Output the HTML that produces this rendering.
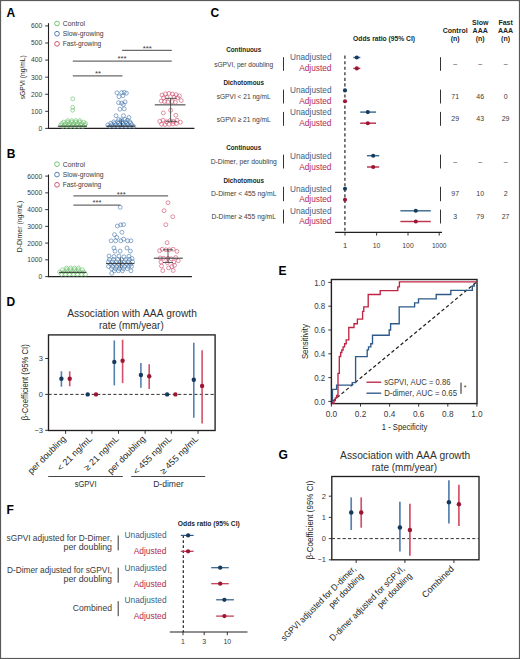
<!DOCTYPE html>
<html><head><meta charset="utf-8"><style>
html,body{margin:0;padding:0;background:#fff;}
svg{display:block;font-family:"Liberation Sans", sans-serif;font-variant-ligatures:none;font-kerning:none;}
</style></head><body>
<svg width="520" height="659" viewBox="0 0 520 659">
<rect x="0" y="0" width="520" height="659" fill="#fff"/>
<text x="6.6" y="16.8" font-size="12" fill="#000" text-anchor="start" font-weight="bold">A</text>
<line x1="48.5" y1="23.2" x2="48.5" y2="128.9" stroke="#231f20" stroke-width="1.1" stroke-linecap="butt"/>
<line x1="48" y1="128.4" x2="194.4" y2="128.4" stroke="#231f20" stroke-width="1.1" stroke-linecap="butt"/>
<line x1="45.2" y1="128.4" x2="48.5" y2="128.4" stroke="#231f20" stroke-width="0.9" stroke-linecap="butt"/>
<text x="42.2" y="130.8" font-size="6.7" fill="#3a3a3a" text-anchor="end">0</text>
<line x1="45.2" y1="111.32" x2="48.5" y2="111.32" stroke="#231f20" stroke-width="0.9" stroke-linecap="butt"/>
<text x="42.2" y="113.72" font-size="6.7" fill="#3a3a3a" text-anchor="end">100</text>
<line x1="45.2" y1="94.24" x2="48.5" y2="94.24" stroke="#231f20" stroke-width="0.9" stroke-linecap="butt"/>
<text x="42.2" y="96.64" font-size="6.7" fill="#3a3a3a" text-anchor="end">200</text>
<line x1="45.2" y1="77.16" x2="48.5" y2="77.16" stroke="#231f20" stroke-width="0.9" stroke-linecap="butt"/>
<text x="42.2" y="79.56" font-size="6.7" fill="#3a3a3a" text-anchor="end">300</text>
<line x1="45.2" y1="60.08" x2="48.5" y2="60.08" stroke="#231f20" stroke-width="0.9" stroke-linecap="butt"/>
<text x="42.2" y="62.48" font-size="6.7" fill="#3a3a3a" text-anchor="end">400</text>
<line x1="45.2" y1="43" x2="48.5" y2="43" stroke="#231f20" stroke-width="0.9" stroke-linecap="butt"/>
<text x="42.2" y="45.4" font-size="6.7" fill="#3a3a3a" text-anchor="end">500</text>
<line x1="45.2" y1="25.92" x2="48.5" y2="25.92" stroke="#231f20" stroke-width="0.9" stroke-linecap="butt"/>
<text x="42.2" y="28.32" font-size="6.7" fill="#3a3a3a" text-anchor="end">600</text>
<text transform="translate(25.1 77.3) rotate(-90)" font-size="7.6" fill="#231f20" text-anchor="middle" textLength="44" lengthAdjust="spacingAndGlyphs">sGPVI (ng/mL)</text>
<circle cx="57" cy="23.5" r="2.35" fill="none" stroke="#68bd68" stroke-width="0.9"/>
<text x="62.8" y="26" font-size="7" fill="#3a3a3a" text-anchor="start" textLength="22.2" lengthAdjust="spacingAndGlyphs">Control</text>
<circle cx="57" cy="33.7" r="2.35" fill="none" stroke="#4273ab" stroke-width="0.9"/>
<text x="62.8" y="36.2" font-size="7" fill="#3a3a3a" text-anchor="start" textLength="40.8" lengthAdjust="spacingAndGlyphs">Slow-growing</text>
<circle cx="57" cy="43.8" r="2.35" fill="none" stroke="#cc4866" stroke-width="0.9"/>
<text x="62.8" y="46.3" font-size="7" fill="#3a3a3a" text-anchor="start" textLength="38.5" lengthAdjust="spacingAndGlyphs">Fast-growing</text>
<line x1="122.1" y1="50.4" x2="171.8" y2="50.4" stroke="#6b6b6b" stroke-width="1.3" stroke-linecap="butt"/>
<text x="147.2" y="51" font-size="7.8" fill="#3a3a3a" text-anchor="middle">***</text>
<line x1="72.8" y1="61.1" x2="171.8" y2="61.1" stroke="#6b6b6b" stroke-width="1.3" stroke-linecap="butt"/>
<text x="122.1" y="61.4" font-size="7.8" fill="#3a3a3a" text-anchor="middle">***</text>
<line x1="72.8" y1="75.8" x2="122.5" y2="75.8" stroke="#6b6b6b" stroke-width="1.3" stroke-linecap="butt"/>
<text x="98" y="76.3" font-size="7.8" fill="#3a3a3a" text-anchor="middle">**</text>
<circle cx="72.7" cy="98.8" r="1.95" fill="none" stroke="#68bd68" stroke-width="0.6"/>
<circle cx="72.7" cy="107.3" r="1.95" fill="none" stroke="#68bd68" stroke-width="0.6"/>
<circle cx="72.7" cy="110.2" r="1.95" fill="none" stroke="#68bd68" stroke-width="0.6"/>
<circle cx="62.7" cy="126.6" r="1.95" fill="none" stroke="#68bd68" stroke-width="0.6"/>
<circle cx="66.7" cy="126.6" r="1.95" fill="none" stroke="#68bd68" stroke-width="0.6"/>
<circle cx="70.7" cy="126.6" r="1.95" fill="none" stroke="#68bd68" stroke-width="0.6"/>
<circle cx="74.7" cy="126.6" r="1.95" fill="none" stroke="#68bd68" stroke-width="0.6"/>
<circle cx="78.7" cy="126.6" r="1.95" fill="none" stroke="#68bd68" stroke-width="0.6"/>
<circle cx="82.7" cy="126.6" r="1.95" fill="none" stroke="#68bd68" stroke-width="0.6"/>
<circle cx="60.7" cy="125.1" r="1.95" fill="none" stroke="#68bd68" stroke-width="0.6"/>
<circle cx="64.7" cy="125.1" r="1.95" fill="none" stroke="#68bd68" stroke-width="0.6"/>
<circle cx="68.7" cy="125.1" r="1.95" fill="none" stroke="#68bd68" stroke-width="0.6"/>
<circle cx="72.7" cy="125.1" r="1.95" fill="none" stroke="#68bd68" stroke-width="0.6"/>
<circle cx="76.7" cy="125.1" r="1.95" fill="none" stroke="#68bd68" stroke-width="0.6"/>
<circle cx="80.7" cy="125.1" r="1.95" fill="none" stroke="#68bd68" stroke-width="0.6"/>
<circle cx="84.7" cy="125.1" r="1.95" fill="none" stroke="#68bd68" stroke-width="0.6"/>
<circle cx="61.7" cy="123.6" r="1.95" fill="none" stroke="#68bd68" stroke-width="0.6"/>
<circle cx="65.7" cy="123.6" r="1.95" fill="none" stroke="#68bd68" stroke-width="0.6"/>
<circle cx="69.7" cy="123.6" r="1.95" fill="none" stroke="#68bd68" stroke-width="0.6"/>
<circle cx="73.7" cy="123.6" r="1.95" fill="none" stroke="#68bd68" stroke-width="0.6"/>
<circle cx="77.7" cy="123.6" r="1.95" fill="none" stroke="#68bd68" stroke-width="0.6"/>
<circle cx="81.7" cy="123.6" r="1.95" fill="none" stroke="#68bd68" stroke-width="0.6"/>
<circle cx="85.7" cy="123.6" r="1.95" fill="none" stroke="#68bd68" stroke-width="0.6"/>
<circle cx="63.7" cy="122.1" r="1.95" fill="none" stroke="#68bd68" stroke-width="0.6"/>
<circle cx="67.7" cy="122.1" r="1.95" fill="none" stroke="#68bd68" stroke-width="0.6"/>
<circle cx="71.7" cy="122.1" r="1.95" fill="none" stroke="#68bd68" stroke-width="0.6"/>
<circle cx="75.7" cy="122.1" r="1.95" fill="none" stroke="#68bd68" stroke-width="0.6"/>
<circle cx="79.7" cy="122.1" r="1.95" fill="none" stroke="#68bd68" stroke-width="0.6"/>
<circle cx="83.7" cy="122.1" r="1.95" fill="none" stroke="#68bd68" stroke-width="0.6"/>
<circle cx="67.7" cy="120.6" r="1.95" fill="none" stroke="#68bd68" stroke-width="0.6"/>
<circle cx="71.7" cy="120.6" r="1.95" fill="none" stroke="#68bd68" stroke-width="0.6"/>
<circle cx="75.7" cy="120.6" r="1.95" fill="none" stroke="#68bd68" stroke-width="0.6"/>
<circle cx="79.7" cy="120.6" r="1.95" fill="none" stroke="#68bd68" stroke-width="0.6"/>
<line x1="57.8" y1="126.2" x2="87" y2="126.2" stroke="#2a2a2a" stroke-width="1" stroke-linecap="butt"/>
<circle cx="116.9" cy="92.8" r="1.95" fill="none" stroke="#4273ab" stroke-width="0.6"/>
<circle cx="121.6" cy="92.6" r="1.95" fill="none" stroke="#4273ab" stroke-width="0.6"/>
<circle cx="124.2" cy="92.4" r="1.95" fill="none" stroke="#4273ab" stroke-width="0.6"/>
<circle cx="126.4" cy="93.2" r="1.95" fill="none" stroke="#4273ab" stroke-width="0.6"/>
<circle cx="119" cy="96.7" r="1.95" fill="none" stroke="#4273ab" stroke-width="0.6"/>
<circle cx="122.9" cy="95.8" r="1.95" fill="none" stroke="#4273ab" stroke-width="0.6"/>
<circle cx="118.6" cy="102.7" r="1.95" fill="none" stroke="#4273ab" stroke-width="0.6"/>
<circle cx="121.6" cy="103.2" r="1.95" fill="none" stroke="#4273ab" stroke-width="0.6"/>
<circle cx="125.1" cy="101.9" r="1.95" fill="none" stroke="#4273ab" stroke-width="0.6"/>
<circle cx="123.4" cy="104.5" r="1.95" fill="none" stroke="#4273ab" stroke-width="0.6"/>
<circle cx="119.9" cy="109.2" r="1.95" fill="none" stroke="#4273ab" stroke-width="0.6"/>
<circle cx="124.2" cy="108.8" r="1.95" fill="none" stroke="#4273ab" stroke-width="0.6"/>
<circle cx="116" cy="115.7" r="1.95" fill="none" stroke="#4273ab" stroke-width="0.6"/>
<circle cx="123.4" cy="115.7" r="1.95" fill="none" stroke="#4273ab" stroke-width="0.6"/>
<circle cx="129" cy="117.4" r="1.95" fill="none" stroke="#4273ab" stroke-width="0.6"/>
<circle cx="118.6" cy="119.6" r="1.95" fill="none" stroke="#4273ab" stroke-width="0.6"/>
<circle cx="121.2" cy="119.9" r="1.95" fill="none" stroke="#4273ab" stroke-width="0.6"/>
<circle cx="125" cy="119.4" r="1.95" fill="none" stroke="#4273ab" stroke-width="0.6"/>
<circle cx="127.5" cy="120.3" r="1.95" fill="none" stroke="#4273ab" stroke-width="0.6"/>
<circle cx="109.8" cy="126.5" r="1.95" fill="none" stroke="#4273ab" stroke-width="0.6"/>
<circle cx="113.8" cy="126.5" r="1.95" fill="none" stroke="#4273ab" stroke-width="0.6"/>
<circle cx="117.8" cy="126.5" r="1.95" fill="none" stroke="#4273ab" stroke-width="0.6"/>
<circle cx="121.8" cy="126.5" r="1.95" fill="none" stroke="#4273ab" stroke-width="0.6"/>
<circle cx="125.8" cy="126.5" r="1.95" fill="none" stroke="#4273ab" stroke-width="0.6"/>
<circle cx="129.8" cy="126.5" r="1.95" fill="none" stroke="#4273ab" stroke-width="0.6"/>
<circle cx="133.8" cy="126.5" r="1.95" fill="none" stroke="#4273ab" stroke-width="0.6"/>
<circle cx="107.8" cy="124.9" r="1.95" fill="none" stroke="#4273ab" stroke-width="0.6"/>
<circle cx="111.8" cy="124.9" r="1.95" fill="none" stroke="#4273ab" stroke-width="0.6"/>
<circle cx="115.8" cy="124.9" r="1.95" fill="none" stroke="#4273ab" stroke-width="0.6"/>
<circle cx="119.8" cy="124.9" r="1.95" fill="none" stroke="#4273ab" stroke-width="0.6"/>
<circle cx="123.8" cy="124.9" r="1.95" fill="none" stroke="#4273ab" stroke-width="0.6"/>
<circle cx="127.8" cy="124.9" r="1.95" fill="none" stroke="#4273ab" stroke-width="0.6"/>
<circle cx="131.8" cy="124.9" r="1.95" fill="none" stroke="#4273ab" stroke-width="0.6"/>
<circle cx="110.8" cy="123.3" r="1.95" fill="none" stroke="#4273ab" stroke-width="0.6"/>
<circle cx="114.8" cy="123.3" r="1.95" fill="none" stroke="#4273ab" stroke-width="0.6"/>
<circle cx="118.8" cy="123.3" r="1.95" fill="none" stroke="#4273ab" stroke-width="0.6"/>
<circle cx="122.8" cy="123.3" r="1.95" fill="none" stroke="#4273ab" stroke-width="0.6"/>
<circle cx="126.8" cy="123.3" r="1.95" fill="none" stroke="#4273ab" stroke-width="0.6"/>
<circle cx="130.8" cy="123.3" r="1.95" fill="none" stroke="#4273ab" stroke-width="0.6"/>
<circle cx="113.8" cy="121.8" r="1.95" fill="none" stroke="#4273ab" stroke-width="0.6"/>
<circle cx="117.8" cy="121.8" r="1.95" fill="none" stroke="#4273ab" stroke-width="0.6"/>
<circle cx="121.8" cy="121.8" r="1.95" fill="none" stroke="#4273ab" stroke-width="0.6"/>
<circle cx="125.8" cy="121.8" r="1.95" fill="none" stroke="#4273ab" stroke-width="0.6"/>
<circle cx="129.8" cy="121.8" r="1.95" fill="none" stroke="#4273ab" stroke-width="0.6"/>
<line x1="106.5" y1="126.2" x2="135" y2="126.2" stroke="#2a2a2a" stroke-width="1.1" stroke-linecap="butt"/>
<line x1="121.5" y1="119" x2="121.5" y2="127" stroke="#2a2a2a" stroke-width="0.6" stroke-linecap="butt"/>
<circle cx="162" cy="95" r="1.95" fill="none" stroke="#cc4866" stroke-width="0.6"/>
<circle cx="165.5" cy="93.8" r="1.95" fill="none" stroke="#cc4866" stroke-width="0.6"/>
<circle cx="169" cy="93.4" r="1.95" fill="none" stroke="#cc4866" stroke-width="0.6"/>
<circle cx="172.5" cy="94" r="1.95" fill="none" stroke="#cc4866" stroke-width="0.6"/>
<circle cx="176" cy="94.6" r="1.95" fill="none" stroke="#cc4866" stroke-width="0.6"/>
<circle cx="179.5" cy="95.9" r="1.95" fill="none" stroke="#cc4866" stroke-width="0.6"/>
<circle cx="163.5" cy="97.9" r="1.95" fill="none" stroke="#cc4866" stroke-width="0.6"/>
<circle cx="167" cy="97.4" r="1.95" fill="none" stroke="#cc4866" stroke-width="0.6"/>
<circle cx="174" cy="97.2" r="1.95" fill="none" stroke="#cc4866" stroke-width="0.6"/>
<circle cx="177.8" cy="97.8" r="1.95" fill="none" stroke="#cc4866" stroke-width="0.6"/>
<circle cx="181.2" cy="100.6" r="1.95" fill="none" stroke="#cc4866" stroke-width="0.6"/>
<circle cx="161.2" cy="101.1" r="1.95" fill="none" stroke="#cc4866" stroke-width="0.6"/>
<circle cx="164.5" cy="101.5" r="1.95" fill="none" stroke="#cc4866" stroke-width="0.6"/>
<circle cx="168" cy="102" r="1.95" fill="none" stroke="#cc4866" stroke-width="0.6"/>
<circle cx="172" cy="101.6" r="1.95" fill="none" stroke="#cc4866" stroke-width="0.6"/>
<circle cx="175.4" cy="102.3" r="1.95" fill="none" stroke="#cc4866" stroke-width="0.6"/>
<circle cx="170.6" cy="110.3" r="1.95" fill="none" stroke="#cc4866" stroke-width="0.6"/>
<circle cx="163.3" cy="112.9" r="1.95" fill="none" stroke="#cc4866" stroke-width="0.6"/>
<circle cx="175.8" cy="115.3" r="1.95" fill="none" stroke="#cc4866" stroke-width="0.6"/>
<circle cx="159.8" cy="121.3" r="1.95" fill="none" stroke="#cc4866" stroke-width="0.6"/>
<circle cx="163" cy="120.2" r="1.95" fill="none" stroke="#cc4866" stroke-width="0.6"/>
<circle cx="166.5" cy="121.8" r="1.95" fill="none" stroke="#cc4866" stroke-width="0.6"/>
<circle cx="170" cy="120.6" r="1.95" fill="none" stroke="#cc4866" stroke-width="0.6"/>
<circle cx="173.4" cy="121.5" r="1.95" fill="none" stroke="#cc4866" stroke-width="0.6"/>
<circle cx="177" cy="120.2" r="1.95" fill="none" stroke="#cc4866" stroke-width="0.6"/>
<circle cx="180.4" cy="122.2" r="1.95" fill="none" stroke="#cc4866" stroke-width="0.6"/>
<circle cx="161.5" cy="124.2" r="1.95" fill="none" stroke="#cc4866" stroke-width="0.6"/>
<circle cx="165" cy="124.5" r="1.95" fill="none" stroke="#cc4866" stroke-width="0.6"/>
<circle cx="169" cy="124.3" r="1.95" fill="none" stroke="#cc4866" stroke-width="0.6"/>
<circle cx="173" cy="124" r="1.95" fill="none" stroke="#cc4866" stroke-width="0.6"/>
<circle cx="176.5" cy="123.5" r="1.95" fill="none" stroke="#cc4866" stroke-width="0.6"/>
<line x1="154.8" y1="104.8" x2="185.5" y2="104.8" stroke="#777" stroke-width="1.5" stroke-linecap="butt"/>
<line x1="170.6" y1="98.3" x2="170.6" y2="121.3" stroke="#333" stroke-width="0.8" stroke-linecap="butt"/>
<line x1="165.3" y1="98.3" x2="176.7" y2="98.3" stroke="#333" stroke-width="0.8" stroke-linecap="butt"/>
<line x1="165.3" y1="121.3" x2="176.7" y2="121.3" stroke="#333" stroke-width="0.8" stroke-linecap="butt"/>
<text x="6.8" y="157.6" font-size="12" fill="#000" text-anchor="start" font-weight="bold">B</text>
<line x1="48.5" y1="174.5" x2="48.5" y2="277.1" stroke="#231f20" stroke-width="1.1" stroke-linecap="butt"/>
<line x1="48" y1="276.6" x2="191.9" y2="276.6" stroke="#231f20" stroke-width="1.1" stroke-linecap="butt"/>
<line x1="45.2" y1="276.6" x2="48.5" y2="276.6" stroke="#231f20" stroke-width="0.9" stroke-linecap="butt"/>
<text x="42.2" y="279" font-size="6.7" fill="#3a3a3a" text-anchor="end">0</text>
<line x1="45.2" y1="259.85" x2="48.5" y2="259.85" stroke="#231f20" stroke-width="0.9" stroke-linecap="butt"/>
<text x="42.2" y="262.25" font-size="6.7" fill="#3a3a3a" text-anchor="end">1000</text>
<line x1="45.2" y1="243.1" x2="48.5" y2="243.1" stroke="#231f20" stroke-width="0.9" stroke-linecap="butt"/>
<text x="42.2" y="245.5" font-size="6.7" fill="#3a3a3a" text-anchor="end">2000</text>
<line x1="45.2" y1="226.35" x2="48.5" y2="226.35" stroke="#231f20" stroke-width="0.9" stroke-linecap="butt"/>
<text x="42.2" y="228.75" font-size="6.7" fill="#3a3a3a" text-anchor="end">3000</text>
<line x1="45.2" y1="209.6" x2="48.5" y2="209.6" stroke="#231f20" stroke-width="0.9" stroke-linecap="butt"/>
<text x="42.2" y="212" font-size="6.7" fill="#3a3a3a" text-anchor="end">4000</text>
<line x1="45.2" y1="192.85" x2="48.5" y2="192.85" stroke="#231f20" stroke-width="0.9" stroke-linecap="butt"/>
<text x="42.2" y="195.25" font-size="6.7" fill="#3a3a3a" text-anchor="end">5000</text>
<line x1="45.2" y1="176.1" x2="48.5" y2="176.1" stroke="#231f20" stroke-width="0.9" stroke-linecap="butt"/>
<text x="42.2" y="178.5" font-size="6.7" fill="#3a3a3a" text-anchor="end">6000</text>
<text transform="translate(21.6 226.5) rotate(-90)" font-size="7.6" fill="#231f20" text-anchor="middle" textLength="51.5" lengthAdjust="spacingAndGlyphs">D-Dimer (ng/mL)</text>
<circle cx="57" cy="164.2" r="2.35" fill="none" stroke="#68bd68" stroke-width="0.9"/>
<text x="62.8" y="166.7" font-size="7" fill="#3a3a3a" text-anchor="start" textLength="22.2" lengthAdjust="spacingAndGlyphs">Control</text>
<circle cx="57" cy="174.6" r="2.35" fill="none" stroke="#4273ab" stroke-width="0.9"/>
<text x="62.8" y="177.1" font-size="7" fill="#3a3a3a" text-anchor="start" textLength="40.8" lengthAdjust="spacingAndGlyphs">Slow-growing</text>
<circle cx="57" cy="184.8" r="2.35" fill="none" stroke="#cc4866" stroke-width="0.9"/>
<text x="62.8" y="187.3" font-size="7" fill="#3a3a3a" text-anchor="start" textLength="38.5" lengthAdjust="spacingAndGlyphs">Fast-growing</text>
<line x1="73.4" y1="195.9" x2="168.1" y2="195.9" stroke="#6b6b6b" stroke-width="1.3" stroke-linecap="butt"/>
<text x="121.2" y="196.6" font-size="7.8" fill="#3a3a3a" text-anchor="middle">***</text>
<line x1="73.4" y1="205.1" x2="120.5" y2="205.1" stroke="#6b6b6b" stroke-width="1.3" stroke-linecap="butt"/>
<text x="97" y="205.4" font-size="7.8" fill="#3a3a3a" text-anchor="middle">***</text>
<circle cx="61.5" cy="274.3" r="1.95" fill="none" stroke="#68bd68" stroke-width="0.6"/>
<circle cx="65.5" cy="274.3" r="1.95" fill="none" stroke="#68bd68" stroke-width="0.6"/>
<circle cx="69.5" cy="274.3" r="1.95" fill="none" stroke="#68bd68" stroke-width="0.6"/>
<circle cx="73.5" cy="274.3" r="1.95" fill="none" stroke="#68bd68" stroke-width="0.6"/>
<circle cx="77.5" cy="274.3" r="1.95" fill="none" stroke="#68bd68" stroke-width="0.6"/>
<circle cx="81.5" cy="274.3" r="1.95" fill="none" stroke="#68bd68" stroke-width="0.6"/>
<circle cx="85.5" cy="274.3" r="1.95" fill="none" stroke="#68bd68" stroke-width="0.6"/>
<circle cx="59.5" cy="272" r="1.95" fill="none" stroke="#68bd68" stroke-width="0.6"/>
<circle cx="63.5" cy="272" r="1.95" fill="none" stroke="#68bd68" stroke-width="0.6"/>
<circle cx="67.5" cy="272" r="1.95" fill="none" stroke="#68bd68" stroke-width="0.6"/>
<circle cx="71.5" cy="272" r="1.95" fill="none" stroke="#68bd68" stroke-width="0.6"/>
<circle cx="75.5" cy="272" r="1.95" fill="none" stroke="#68bd68" stroke-width="0.6"/>
<circle cx="79.5" cy="272" r="1.95" fill="none" stroke="#68bd68" stroke-width="0.6"/>
<circle cx="83.5" cy="272" r="1.95" fill="none" stroke="#68bd68" stroke-width="0.6"/>
<circle cx="62.5" cy="269.8" r="1.95" fill="none" stroke="#68bd68" stroke-width="0.6"/>
<circle cx="66.5" cy="269.8" r="1.95" fill="none" stroke="#68bd68" stroke-width="0.6"/>
<circle cx="70.5" cy="269.8" r="1.95" fill="none" stroke="#68bd68" stroke-width="0.6"/>
<circle cx="74.5" cy="269.8" r="1.95" fill="none" stroke="#68bd68" stroke-width="0.6"/>
<circle cx="78.5" cy="269.8" r="1.95" fill="none" stroke="#68bd68" stroke-width="0.6"/>
<circle cx="82.5" cy="269.8" r="1.95" fill="none" stroke="#68bd68" stroke-width="0.6"/>
<circle cx="66.5" cy="268" r="1.95" fill="none" stroke="#68bd68" stroke-width="0.6"/>
<circle cx="70.5" cy="268" r="1.95" fill="none" stroke="#68bd68" stroke-width="0.6"/>
<circle cx="74.5" cy="268" r="1.95" fill="none" stroke="#68bd68" stroke-width="0.6"/>
<circle cx="78.5" cy="268" r="1.95" fill="none" stroke="#68bd68" stroke-width="0.6"/>
<line x1="59" y1="272.3" x2="86.5" y2="272.3" stroke="#2a2a2a" stroke-width="1" stroke-linecap="butt"/>
<circle cx="120.2" cy="207.3" r="1.95" fill="none" stroke="#4273ab" stroke-width="0.6"/>
<circle cx="117.3" cy="226" r="1.95" fill="none" stroke="#4273ab" stroke-width="0.6"/>
<circle cx="120.8" cy="224.9" r="1.95" fill="none" stroke="#4273ab" stroke-width="0.6"/>
<circle cx="123.6" cy="224.6" r="1.95" fill="none" stroke="#4273ab" stroke-width="0.6"/>
<circle cx="121.9" cy="232.3" r="1.95" fill="none" stroke="#4273ab" stroke-width="0.6"/>
<circle cx="114.5" cy="234.6" r="1.95" fill="none" stroke="#4273ab" stroke-width="0.6"/>
<circle cx="116.8" cy="237.4" r="1.95" fill="none" stroke="#4273ab" stroke-width="0.6"/>
<circle cx="111.1" cy="240.8" r="1.95" fill="none" stroke="#4273ab" stroke-width="0.6"/>
<circle cx="115.6" cy="240.8" r="1.95" fill="none" stroke="#4273ab" stroke-width="0.6"/>
<circle cx="120.8" cy="240.8" r="1.95" fill="none" stroke="#4273ab" stroke-width="0.6"/>
<circle cx="123.6" cy="239.1" r="1.95" fill="none" stroke="#4273ab" stroke-width="0.6"/>
<circle cx="127.6" cy="240.8" r="1.95" fill="none" stroke="#4273ab" stroke-width="0.6"/>
<circle cx="131" cy="240.8" r="1.95" fill="none" stroke="#4273ab" stroke-width="0.6"/>
<circle cx="113.9" cy="248" r="1.95" fill="none" stroke="#4273ab" stroke-width="0.6"/>
<circle cx="127" cy="248" r="1.95" fill="none" stroke="#4273ab" stroke-width="0.6"/>
<circle cx="115" cy="251.1" r="1.95" fill="none" stroke="#4273ab" stroke-width="0.6"/>
<circle cx="120.2" cy="251.1" r="1.95" fill="none" stroke="#4273ab" stroke-width="0.6"/>
<circle cx="130.4" cy="251.1" r="1.95" fill="none" stroke="#4273ab" stroke-width="0.6"/>
<circle cx="109" cy="256" r="1.95" fill="none" stroke="#4273ab" stroke-width="0.6"/>
<circle cx="114" cy="256.5" r="1.95" fill="none" stroke="#4273ab" stroke-width="0.6"/>
<circle cx="119" cy="256" r="1.95" fill="none" stroke="#4273ab" stroke-width="0.6"/>
<circle cx="124" cy="256.8" r="1.95" fill="none" stroke="#4273ab" stroke-width="0.6"/>
<circle cx="129" cy="256.2" r="1.95" fill="none" stroke="#4273ab" stroke-width="0.6"/>
<circle cx="132" cy="258.5" r="1.95" fill="none" stroke="#4273ab" stroke-width="0.6"/>
<circle cx="111.7" cy="273.3" r="1.95" fill="none" stroke="#4273ab" stroke-width="0.6"/>
<circle cx="131" cy="270.8" r="1.95" fill="none" stroke="#4273ab" stroke-width="0.6"/>
<circle cx="109.5" cy="259.5" r="1.95" fill="none" stroke="#4273ab" stroke-width="0.6"/>
<circle cx="113.5" cy="259.5" r="1.95" fill="none" stroke="#4273ab" stroke-width="0.6"/>
<circle cx="117.5" cy="259.5" r="1.95" fill="none" stroke="#4273ab" stroke-width="0.6"/>
<circle cx="121.5" cy="259.5" r="1.95" fill="none" stroke="#4273ab" stroke-width="0.6"/>
<circle cx="125.5" cy="259.5" r="1.95" fill="none" stroke="#4273ab" stroke-width="0.6"/>
<circle cx="129.5" cy="259.5" r="1.95" fill="none" stroke="#4273ab" stroke-width="0.6"/>
<circle cx="108.5" cy="261.8" r="1.95" fill="none" stroke="#4273ab" stroke-width="0.6"/>
<circle cx="112.5" cy="261.8" r="1.95" fill="none" stroke="#4273ab" stroke-width="0.6"/>
<circle cx="116.5" cy="261.8" r="1.95" fill="none" stroke="#4273ab" stroke-width="0.6"/>
<circle cx="120.5" cy="261.8" r="1.95" fill="none" stroke="#4273ab" stroke-width="0.6"/>
<circle cx="124.5" cy="261.8" r="1.95" fill="none" stroke="#4273ab" stroke-width="0.6"/>
<circle cx="128.5" cy="261.8" r="1.95" fill="none" stroke="#4273ab" stroke-width="0.6"/>
<circle cx="132.5" cy="261.8" r="1.95" fill="none" stroke="#4273ab" stroke-width="0.6"/>
<circle cx="110.5" cy="264.2" r="1.95" fill="none" stroke="#4273ab" stroke-width="0.6"/>
<circle cx="114.5" cy="264.2" r="1.95" fill="none" stroke="#4273ab" stroke-width="0.6"/>
<circle cx="118.5" cy="264.2" r="1.95" fill="none" stroke="#4273ab" stroke-width="0.6"/>
<circle cx="122.5" cy="264.2" r="1.95" fill="none" stroke="#4273ab" stroke-width="0.6"/>
<circle cx="126.5" cy="264.2" r="1.95" fill="none" stroke="#4273ab" stroke-width="0.6"/>
<circle cx="130.5" cy="264.2" r="1.95" fill="none" stroke="#4273ab" stroke-width="0.6"/>
<circle cx="108.5" cy="266.4" r="1.95" fill="none" stroke="#4273ab" stroke-width="0.6"/>
<circle cx="112.5" cy="266.4" r="1.95" fill="none" stroke="#4273ab" stroke-width="0.6"/>
<circle cx="116.5" cy="266.4" r="1.95" fill="none" stroke="#4273ab" stroke-width="0.6"/>
<circle cx="120.5" cy="266.4" r="1.95" fill="none" stroke="#4273ab" stroke-width="0.6"/>
<circle cx="124.5" cy="266.4" r="1.95" fill="none" stroke="#4273ab" stroke-width="0.6"/>
<circle cx="128.5" cy="266.4" r="1.95" fill="none" stroke="#4273ab" stroke-width="0.6"/>
<circle cx="131.5" cy="266.4" r="1.95" fill="none" stroke="#4273ab" stroke-width="0.6"/>
<circle cx="111.5" cy="268.7" r="1.95" fill="none" stroke="#4273ab" stroke-width="0.6"/>
<circle cx="115.5" cy="268.7" r="1.95" fill="none" stroke="#4273ab" stroke-width="0.6"/>
<circle cx="119.5" cy="268.7" r="1.95" fill="none" stroke="#4273ab" stroke-width="0.6"/>
<circle cx="123.5" cy="268.7" r="1.95" fill="none" stroke="#4273ab" stroke-width="0.6"/>
<circle cx="127.5" cy="268.7" r="1.95" fill="none" stroke="#4273ab" stroke-width="0.6"/>
<circle cx="114.5" cy="270.8" r="1.95" fill="none" stroke="#4273ab" stroke-width="0.6"/>
<circle cx="118.5" cy="270.8" r="1.95" fill="none" stroke="#4273ab" stroke-width="0.6"/>
<circle cx="122.5" cy="270.8" r="1.95" fill="none" stroke="#4273ab" stroke-width="0.6"/>
<line x1="106" y1="263.6" x2="134.4" y2="263.6" stroke="#3a3a3a" stroke-width="1" stroke-linecap="butt"/>
<line x1="120.5" y1="257.6" x2="120.5" y2="268" stroke="#2a2a2a" stroke-width="0.6" stroke-linecap="butt"/>
<circle cx="168" cy="202.7" r="1.95" fill="none" stroke="#cc4866" stroke-width="0.6"/>
<circle cx="164.1" cy="210.7" r="1.95" fill="none" stroke="#cc4866" stroke-width="0.6"/>
<circle cx="172.8" cy="216.7" r="1.95" fill="none" stroke="#cc4866" stroke-width="0.6"/>
<circle cx="165.8" cy="224.7" r="1.95" fill="none" stroke="#cc4866" stroke-width="0.6"/>
<circle cx="167.1" cy="242.7" r="1.95" fill="none" stroke="#cc4866" stroke-width="0.6"/>
<circle cx="159.6" cy="250.7" r="1.95" fill="none" stroke="#cc4866" stroke-width="0.6"/>
<circle cx="162.2" cy="249.2" r="1.95" fill="none" stroke="#cc4866" stroke-width="0.6"/>
<circle cx="166.1" cy="249.8" r="1.95" fill="none" stroke="#cc4866" stroke-width="0.6"/>
<circle cx="169.3" cy="249.8" r="1.95" fill="none" stroke="#cc4866" stroke-width="0.6"/>
<circle cx="173.2" cy="249.2" r="1.95" fill="none" stroke="#cc4866" stroke-width="0.6"/>
<circle cx="177" cy="251.4" r="1.95" fill="none" stroke="#cc4866" stroke-width="0.6"/>
<circle cx="160.2" cy="258" r="1.95" fill="none" stroke="#cc4866" stroke-width="0.6"/>
<circle cx="163.5" cy="258.2" r="1.95" fill="none" stroke="#cc4866" stroke-width="0.6"/>
<circle cx="168" cy="258.3" r="1.95" fill="none" stroke="#cc4866" stroke-width="0.6"/>
<circle cx="171.2" cy="258.8" r="1.95" fill="none" stroke="#cc4866" stroke-width="0.6"/>
<circle cx="175.7" cy="257.6" r="1.95" fill="none" stroke="#cc4866" stroke-width="0.6"/>
<circle cx="178.3" cy="260.8" r="1.95" fill="none" stroke="#cc4866" stroke-width="0.6"/>
<circle cx="161" cy="262.1" r="1.95" fill="none" stroke="#cc4866" stroke-width="0.6"/>
<circle cx="167.4" cy="262.7" r="1.95" fill="none" stroke="#cc4866" stroke-width="0.6"/>
<circle cx="173.8" cy="262.1" r="1.95" fill="none" stroke="#cc4866" stroke-width="0.6"/>
<circle cx="161.5" cy="266" r="1.95" fill="none" stroke="#cc4866" stroke-width="0.6"/>
<circle cx="168.6" cy="267.9" r="1.95" fill="none" stroke="#cc4866" stroke-width="0.6"/>
<circle cx="171.9" cy="266.6" r="1.95" fill="none" stroke="#cc4866" stroke-width="0.6"/>
<circle cx="174.5" cy="265.3" r="1.95" fill="none" stroke="#cc4866" stroke-width="0.6"/>
<circle cx="162.8" cy="270.6" r="1.95" fill="none" stroke="#cc4866" stroke-width="0.6"/>
<circle cx="173.2" cy="270.5" r="1.95" fill="none" stroke="#cc4866" stroke-width="0.6"/>
<line x1="153.8" y1="258.2" x2="182.8" y2="258.2" stroke="#444" stroke-width="1.1" stroke-linecap="butt"/>
<line x1="168" y1="249.8" x2="168" y2="262.5" stroke="#333" stroke-width="0.8" stroke-linecap="butt"/>
<line x1="163" y1="249.8" x2="173" y2="249.8" stroke="#333" stroke-width="0.8" stroke-linecap="butt"/>
<line x1="163" y1="262.5" x2="173" y2="262.5" stroke="#333" stroke-width="0.8" stroke-linecap="butt"/>
<text x="210.5" y="17.2" font-size="12" fill="#000" text-anchor="start" font-weight="bold">C</text>
<text x="243.7" y="52" font-size="7" fill="#231f20" text-anchor="middle" font-weight="bold" textLength="35" lengthAdjust="spacingAndGlyphs">Continuous</text>
<text x="243.7" y="67.2" font-size="7.6" fill="#3a3a3a" text-anchor="middle" textLength="59" lengthAdjust="spacingAndGlyphs">sGPVI, per doubling</text>
<text x="243.7" y="84.6" font-size="7" fill="#231f20" text-anchor="middle" font-weight="bold" textLength="40.5" lengthAdjust="spacingAndGlyphs">Dichotomous</text>
<text x="243.7" y="99" font-size="7.6" fill="#3a3a3a" text-anchor="middle" textLength="54" lengthAdjust="spacingAndGlyphs">sGPVI &lt; 21 ng/mL</text>
<text x="243.7" y="121.5" font-size="7.6" fill="#3a3a3a" text-anchor="middle" textLength="54" lengthAdjust="spacingAndGlyphs">sGPVI ≥ 21 ng/mL</text>
<text x="243.7" y="149.8" font-size="7" fill="#231f20" text-anchor="middle" font-weight="bold" textLength="35" lengthAdjust="spacingAndGlyphs">Continuous</text>
<text x="243.7" y="163.8" font-size="7.6" fill="#3a3a3a" text-anchor="middle" textLength="66" lengthAdjust="spacingAndGlyphs">D-Dimer, per doubling</text>
<text x="243.7" y="182.7" font-size="7" fill="#231f20" text-anchor="middle" font-weight="bold" textLength="40.5" lengthAdjust="spacingAndGlyphs">Dichotomous</text>
<text x="243.7" y="196.3" font-size="7.6" fill="#3a3a3a" text-anchor="middle" textLength="65.5" lengthAdjust="spacingAndGlyphs">D-Dimer &lt; 455 ng/mL</text>
<text x="243.7" y="218.9" font-size="7.6" fill="#3a3a3a" text-anchor="middle" textLength="64.5" lengthAdjust="spacingAndGlyphs">D-Dimer ≥ 455 ng/mL</text>
<line x1="283.5" y1="57.2" x2="283.5" y2="70.8" stroke="#333" stroke-width="1" stroke-linecap="butt"/>
<line x1="440.5" y1="57.2" x2="440.5" y2="70.8" stroke="#333" stroke-width="1" stroke-linecap="butt"/>
<line x1="283.5" y1="89.6" x2="283.5" y2="103.5" stroke="#333" stroke-width="1" stroke-linecap="butt"/>
<line x1="440.5" y1="89.6" x2="440.5" y2="103.5" stroke="#333" stroke-width="1" stroke-linecap="butt"/>
<line x1="283.5" y1="111.9" x2="283.5" y2="125.8" stroke="#333" stroke-width="1" stroke-linecap="butt"/>
<line x1="440.5" y1="111.9" x2="440.5" y2="125.8" stroke="#333" stroke-width="1" stroke-linecap="butt"/>
<line x1="283.5" y1="154.6" x2="283.5" y2="168.5" stroke="#333" stroke-width="1" stroke-linecap="butt"/>
<line x1="440.5" y1="154.6" x2="440.5" y2="168.5" stroke="#333" stroke-width="1" stroke-linecap="butt"/>
<line x1="283.5" y1="186.8" x2="283.5" y2="201.2" stroke="#333" stroke-width="1" stroke-linecap="butt"/>
<line x1="440.5" y1="186.8" x2="440.5" y2="201.2" stroke="#333" stroke-width="1" stroke-linecap="butt"/>
<line x1="283.5" y1="209.6" x2="283.5" y2="223.5" stroke="#333" stroke-width="1" stroke-linecap="butt"/>
<line x1="440.5" y1="209.6" x2="440.5" y2="223.5" stroke="#333" stroke-width="1" stroke-linecap="butt"/>
<text x="331.5" y="60.1" font-size="8.6" fill="#3a5f88" text-anchor="end" textLength="41.5" lengthAdjust="spacingAndGlyphs">Unadjusted</text>
<text x="331.5" y="70.5" font-size="8.6" fill="#b42a4d" text-anchor="end" textLength="32.3" lengthAdjust="spacingAndGlyphs">Adjusted</text>
<text x="331.5" y="92.9" font-size="8.6" fill="#3a5f88" text-anchor="end" textLength="41.5" lengthAdjust="spacingAndGlyphs">Unadjusted</text>
<text x="331.5" y="103.9" font-size="8.6" fill="#b42a4d" text-anchor="end" textLength="32.3" lengthAdjust="spacingAndGlyphs">Adjusted</text>
<text x="331.5" y="114.7" font-size="8.6" fill="#3a5f88" text-anchor="end" textLength="41.5" lengthAdjust="spacingAndGlyphs">Unadjusted</text>
<text x="331.5" y="125.5" font-size="8.6" fill="#b42a4d" text-anchor="end" textLength="32.3" lengthAdjust="spacingAndGlyphs">Adjusted</text>
<text x="331.5" y="158.9" font-size="8.6" fill="#3a5f88" text-anchor="end" textLength="41.5" lengthAdjust="spacingAndGlyphs">Unadjusted</text>
<text x="331.5" y="169.6" font-size="8.6" fill="#b42a4d" text-anchor="end" textLength="32.3" lengthAdjust="spacingAndGlyphs">Adjusted</text>
<text x="331.5" y="191.6" font-size="8.6" fill="#3a5f88" text-anchor="end" textLength="41.5" lengthAdjust="spacingAndGlyphs">Unadjusted</text>
<text x="331.5" y="202.4" font-size="8.6" fill="#b42a4d" text-anchor="end" textLength="32.3" lengthAdjust="spacingAndGlyphs">Adjusted</text>
<text x="331.5" y="213.6" font-size="8.6" fill="#3a5f88" text-anchor="end" textLength="41.5" lengthAdjust="spacingAndGlyphs">Unadjusted</text>
<text x="331.5" y="224.4" font-size="8.6" fill="#b42a4d" text-anchor="end" textLength="32.3" lengthAdjust="spacingAndGlyphs">Adjusted</text>
<text x="384.1" y="41.3" font-size="7" fill="#231f20" text-anchor="middle" font-weight="bold" textLength="62" lengthAdjust="spacingAndGlyphs">Odds ratio (95% CI)</text>
<text x="455.2" y="33.2" font-size="7" fill="#231f20" text-anchor="middle" font-weight="bold">Control</text>
<text x="455.2" y="41.3" font-size="7" fill="#231f20" text-anchor="middle" font-weight="bold">(n)</text>
<text x="480.2" y="25.1" font-size="7" fill="#231f20" text-anchor="middle" font-weight="bold">Slow</text>
<text x="480.2" y="33.2" font-size="7" fill="#231f20" text-anchor="middle" font-weight="bold">AAA</text>
<text x="480.2" y="41.3" font-size="7" fill="#231f20" text-anchor="middle" font-weight="bold">(n)</text>
<text x="505.6" y="25.1" font-size="7" fill="#231f20" text-anchor="middle" font-weight="bold">Fast</text>
<text x="505.6" y="33.2" font-size="7" fill="#231f20" text-anchor="middle" font-weight="bold">AAA</text>
<text x="505.6" y="41.3" font-size="7" fill="#231f20" text-anchor="middle" font-weight="bold">(n)</text>
<line x1="344.9" y1="55.6" x2="344.9" y2="232.4" stroke="#505050" stroke-width="1.5" stroke-dasharray="3.1 2.45" stroke-linecap="butt"/>
<line x1="335.1" y1="232.4" x2="442" y2="232.4" stroke="#231f20" stroke-width="1.1" stroke-linecap="butt"/>
<line x1="345" y1="232.4" x2="345" y2="235.6" stroke="#231f20" stroke-width="0.9" stroke-linecap="butt"/>
<text x="345" y="248" font-size="7.6" fill="#3a3a3a" text-anchor="middle">1</text>
<line x1="376.6" y1="232.4" x2="376.6" y2="235.6" stroke="#231f20" stroke-width="0.9" stroke-linecap="butt"/>
<text x="376.6" y="248" font-size="7.6" fill="#3a3a3a" text-anchor="middle" textLength="7.6" lengthAdjust="spacingAndGlyphs">10</text>
<line x1="408" y1="232.4" x2="408" y2="235.6" stroke="#231f20" stroke-width="0.9" stroke-linecap="butt"/>
<text x="408" y="248" font-size="7.6" fill="#3a3a3a" text-anchor="middle" textLength="11.4" lengthAdjust="spacingAndGlyphs">100</text>
<line x1="439.2" y1="232.4" x2="439.2" y2="235.6" stroke="#231f20" stroke-width="0.9" stroke-linecap="butt"/>
<text x="439.2" y="248" font-size="7.6" fill="#3a3a3a" text-anchor="middle" textLength="14.6" lengthAdjust="spacingAndGlyphs">1000</text>
<line x1="353.3" y1="57.5" x2="360.3" y2="57.5" stroke="#3e6c91" stroke-width="1.45" stroke-linecap="butt"/>
<circle cx="356.8" cy="57.5" r="2.05" fill="#163a5e" stroke="none" stroke-width="0.6"/>
<line x1="353.3" y1="68.4" x2="360.3" y2="68.4" stroke="#b8344f" stroke-width="1.45" stroke-linecap="butt"/>
<circle cx="356.8" cy="68.4" r="2.05" fill="#9c1533" stroke="none" stroke-width="0.6"/>
<circle cx="345" cy="90.4" r="2.05" fill="#163a5e" stroke="none" stroke-width="0.6"/>
<circle cx="345" cy="101.2" r="2.05" fill="#9c1533" stroke="none" stroke-width="0.6"/>
<line x1="360.2" y1="112.1" x2="376" y2="112.1" stroke="#3e6c91" stroke-width="1.45" stroke-linecap="butt"/>
<circle cx="367.8" cy="112.1" r="2.05" fill="#163a5e" stroke="none" stroke-width="0.6"/>
<line x1="360.2" y1="123.2" x2="376" y2="123.2" stroke="#b8344f" stroke-width="1.45" stroke-linecap="butt"/>
<circle cx="367.8" cy="123.2" r="2.05" fill="#9c1533" stroke="none" stroke-width="0.6"/>
<line x1="367" y1="155.7" x2="379.2" y2="155.7" stroke="#3e6c91" stroke-width="1.45" stroke-linecap="butt"/>
<circle cx="373.2" cy="155.7" r="2.05" fill="#163a5e" stroke="none" stroke-width="0.6"/>
<line x1="367" y1="167" x2="379.2" y2="167" stroke="#b8344f" stroke-width="1.45" stroke-linecap="butt"/>
<circle cx="373.2" cy="167" r="2.05" fill="#9c1533" stroke="none" stroke-width="0.6"/>
<circle cx="345" cy="188.8" r="2.05" fill="#163a5e" stroke="none" stroke-width="0.6"/>
<circle cx="345" cy="199.8" r="2.05" fill="#9c1533" stroke="none" stroke-width="0.6"/>
<line x1="400.4" y1="210.8" x2="430.8" y2="210.8" stroke="#3e6c91" stroke-width="1.45" stroke-linecap="butt"/>
<circle cx="415.8" cy="210.8" r="2.05" fill="#163a5e" stroke="none" stroke-width="0.6"/>
<line x1="400.4" y1="221.5" x2="430.8" y2="221.5" stroke="#b8344f" stroke-width="1.45" stroke-linecap="butt"/>
<circle cx="415.8" cy="221.5" r="2.05" fill="#9c1533" stroke="none" stroke-width="0.6"/>
<text x="455.2" y="66.3" font-size="7" fill="#3a3a3a" text-anchor="middle">–</text>
<text x="480.2" y="66.3" font-size="7" fill="#3a3a3a" text-anchor="middle">–</text>
<text x="505.6" y="66.3" font-size="7" fill="#3a3a3a" text-anchor="middle">–</text>
<text x="455.2" y="98.8" font-size="7" fill="#3a3a3a" text-anchor="middle">71</text>
<text x="480.2" y="98.8" font-size="7" fill="#3a3a3a" text-anchor="middle">46</text>
<text x="505.6" y="98.8" font-size="7" fill="#3a3a3a" text-anchor="middle">0</text>
<text x="455.2" y="121.2" font-size="7" fill="#3a3a3a" text-anchor="middle">29</text>
<text x="480.2" y="121.2" font-size="7" fill="#3a3a3a" text-anchor="middle">43</text>
<text x="505.6" y="121.2" font-size="7" fill="#3a3a3a" text-anchor="middle">29</text>
<text x="455.2" y="163.9" font-size="7" fill="#3a3a3a" text-anchor="middle">–</text>
<text x="480.2" y="163.9" font-size="7" fill="#3a3a3a" text-anchor="middle">–</text>
<text x="505.6" y="163.9" font-size="7" fill="#3a3a3a" text-anchor="middle">–</text>
<text x="455.2" y="196.3" font-size="7" fill="#3a3a3a" text-anchor="middle">97</text>
<text x="480.2" y="196.3" font-size="7" fill="#3a3a3a" text-anchor="middle">10</text>
<text x="505.6" y="196.3" font-size="7" fill="#3a3a3a" text-anchor="middle">2</text>
<text x="455.2" y="218.9" font-size="7" fill="#3a3a3a" text-anchor="middle">3</text>
<text x="480.2" y="218.9" font-size="7" fill="#3a3a3a" text-anchor="middle">79</text>
<text x="505.6" y="218.9" font-size="7" fill="#3a3a3a" text-anchor="middle">27</text>
<text x="6.5" y="305.9" font-size="12" fill="#000" text-anchor="start" font-weight="bold">D</text>
<text x="132" y="317.3" font-size="10" fill="#2e2e2e" text-anchor="middle" textLength="129.7" lengthAdjust="spacingAndGlyphs">Association with AAA growth</text>
<text x="131.3" y="328.8" font-size="10" fill="#2e2e2e" text-anchor="middle" textLength="64.8" lengthAdjust="spacingAndGlyphs">rate (mm/year)</text>
<rect x="48.5" y="334.9" width="166.6" height="95.6" fill="none" stroke="#231f20" stroke-width="1.35"/>
<line x1="45.2" y1="358.49" x2="48.5" y2="358.49" stroke="#231f20" stroke-width="0.9" stroke-linecap="butt"/>
<text x="43" y="361.09" font-size="7.5" fill="#3a3a3a" text-anchor="end">3</text>
<line x1="45.2" y1="394.4" x2="48.5" y2="394.4" stroke="#231f20" stroke-width="0.9" stroke-linecap="butt"/>
<text x="43" y="397" font-size="7.5" fill="#3a3a3a" text-anchor="end">0</text>
<line x1="45.2" y1="430.31" x2="48.5" y2="430.31" stroke="#231f20" stroke-width="0.9" stroke-linecap="butt"/>
<text x="43" y="432.91" font-size="7.5" fill="#3a3a3a" text-anchor="end">−3</text>
<line x1="48.5" y1="394.4" x2="215" y2="394.4" stroke="#333" stroke-width="1" stroke-dasharray="3.2 2.2" stroke-linecap="butt"/>
<text transform="translate(28.2 382.2) rotate(-90)" font-size="9" fill="#231f20" text-anchor="middle" textLength="76" lengthAdjust="spacingAndGlyphs">β-Coefficient (95% CI)</text>
<line x1="61.4" y1="371.3" x2="61.4" y2="386.7" stroke="#5581ae" stroke-width="1.6" stroke-linecap="butt"/>
<line x1="69.7" y1="371.3" x2="69.7" y2="386.3" stroke="#d4506b" stroke-width="1.6" stroke-linecap="butt"/>
<circle cx="61.4" cy="378.8" r="2.2" fill="#163a5e" stroke="none" stroke-width="0.6"/>
<circle cx="69.7" cy="378.7" r="2.2" fill="#9c1533" stroke="none" stroke-width="0.6"/>
<line x1="65.6" y1="430.5" x2="65.6" y2="433.8" stroke="#231f20" stroke-width="0.9" stroke-linecap="butt"/>
<circle cx="87.7" cy="394.4" r="2.2" fill="#163a5e" stroke="none" stroke-width="0.6"/>
<circle cx="96" cy="394.4" r="2.2" fill="#9c1533" stroke="none" stroke-width="0.6"/>
<line x1="91.9" y1="430.5" x2="91.9" y2="433.8" stroke="#231f20" stroke-width="0.9" stroke-linecap="butt"/>
<line x1="114.3" y1="340.4" x2="114.3" y2="385.4" stroke="#5581ae" stroke-width="1.6" stroke-linecap="butt"/>
<line x1="122.6" y1="339.7" x2="122.6" y2="383.1" stroke="#d4506b" stroke-width="1.6" stroke-linecap="butt"/>
<circle cx="114.3" cy="361.9" r="2.2" fill="#163a5e" stroke="none" stroke-width="0.6"/>
<circle cx="122.6" cy="360.7" r="2.2" fill="#9c1533" stroke="none" stroke-width="0.6"/>
<line x1="118.5" y1="430.5" x2="118.5" y2="433.8" stroke="#231f20" stroke-width="0.9" stroke-linecap="butt"/>
<line x1="140.9" y1="363" x2="140.9" y2="387.7" stroke="#5581ae" stroke-width="1.6" stroke-linecap="butt"/>
<line x1="149.2" y1="364.2" x2="149.2" y2="388.9" stroke="#d4506b" stroke-width="1.6" stroke-linecap="butt"/>
<circle cx="140.9" cy="375" r="2.2" fill="#163a5e" stroke="none" stroke-width="0.6"/>
<circle cx="149.2" cy="376.2" r="2.2" fill="#9c1533" stroke="none" stroke-width="0.6"/>
<line x1="145.1" y1="430.5" x2="145.1" y2="433.8" stroke="#231f20" stroke-width="0.9" stroke-linecap="butt"/>
<circle cx="167.1" cy="394.4" r="2.2" fill="#163a5e" stroke="none" stroke-width="0.6"/>
<circle cx="175.4" cy="394.4" r="2.2" fill="#9c1533" stroke="none" stroke-width="0.6"/>
<line x1="171.3" y1="430.5" x2="171.3" y2="433.8" stroke="#231f20" stroke-width="0.9" stroke-linecap="butt"/>
<line x1="193.8" y1="342.7" x2="193.8" y2="417.8" stroke="#5581ae" stroke-width="1.6" stroke-linecap="butt"/>
<line x1="202.1" y1="350.3" x2="202.1" y2="423.5" stroke="#d4506b" stroke-width="1.6" stroke-linecap="butt"/>
<circle cx="193.8" cy="379.7" r="2.2" fill="#163a5e" stroke="none" stroke-width="0.6"/>
<circle cx="202.1" cy="385.9" r="2.2" fill="#9c1533" stroke="none" stroke-width="0.6"/>
<line x1="198" y1="430.5" x2="198" y2="433.8" stroke="#231f20" stroke-width="0.9" stroke-linecap="butt"/>
<text transform="translate(66.5 439.4) rotate(-45)" font-size="9" fill="#231f20" text-anchor="end">per doubling</text>
<text transform="translate(92.8 439.4) rotate(-45)" font-size="9" fill="#231f20" text-anchor="end">&lt; 21 ng/mL</text>
<text transform="translate(119.4 439.4) rotate(-45)" font-size="9" fill="#231f20" text-anchor="end">≥ 21 ng/mL</text>
<text transform="translate(146 439.4) rotate(-45)" font-size="9" fill="#231f20" text-anchor="end">per doubling</text>
<text transform="translate(172.2 439.4) rotate(-45)" font-size="9" fill="#231f20" text-anchor="end">&lt; 455 ng/mL</text>
<text transform="translate(198.9 439.4) rotate(-45)" font-size="9" fill="#231f20" text-anchor="end">≥ 455 ng/mL</text>
<line x1="48.2" y1="476.5" x2="122.8" y2="476.5" stroke="#444" stroke-width="1" stroke-linecap="butt"/>
<line x1="131.2" y1="476.5" x2="205.2" y2="476.5" stroke="#444" stroke-width="1" stroke-linecap="butt"/>
<text x="85.6" y="486.6" font-size="8.3" fill="#2e2e2e" text-anchor="middle" textLength="21.8" lengthAdjust="spacingAndGlyphs">sGPVI</text>
<text x="168.4" y="486.6" font-size="8.3" fill="#2e2e2e" text-anchor="middle" textLength="30.5" lengthAdjust="spacingAndGlyphs">D-dimer</text>
<text x="278.4" y="274.7" font-size="12" fill="#000" text-anchor="start" font-weight="bold">E</text>
<rect x="331.4" y="279.5" width="145.6" height="124.1" fill="none" stroke="#231f20" stroke-width="1.4"/>
<line x1="328.3" y1="401.4" x2="331.4" y2="401.4" stroke="#231f20" stroke-width="0.9" stroke-linecap="butt"/>
<text x="325.2" y="404.5" font-size="9" fill="#3a3a3a" text-anchor="end" textLength="11" lengthAdjust="spacingAndGlyphs">0.0</text>
<line x1="331.4" y1="403.6" x2="331.4" y2="406.6" stroke="#231f20" stroke-width="0.9" stroke-linecap="butt"/>
<text x="331.4" y="417" font-size="9" fill="#3a3a3a" text-anchor="middle" textLength="11.5" lengthAdjust="spacingAndGlyphs">0.0</text>
<line x1="328.3" y1="377.6" x2="331.4" y2="377.6" stroke="#231f20" stroke-width="0.9" stroke-linecap="butt"/>
<text x="325.2" y="380.7" font-size="9" fill="#3a3a3a" text-anchor="end" textLength="11" lengthAdjust="spacingAndGlyphs">0.2</text>
<line x1="360.5" y1="403.6" x2="360.5" y2="406.6" stroke="#231f20" stroke-width="0.9" stroke-linecap="butt"/>
<text x="360.5" y="417" font-size="9" fill="#3a3a3a" text-anchor="middle" textLength="11.5" lengthAdjust="spacingAndGlyphs">0.2</text>
<line x1="328.3" y1="353.8" x2="331.4" y2="353.8" stroke="#231f20" stroke-width="0.9" stroke-linecap="butt"/>
<text x="325.2" y="356.9" font-size="9" fill="#3a3a3a" text-anchor="end" textLength="11" lengthAdjust="spacingAndGlyphs">0.4</text>
<line x1="389.6" y1="403.6" x2="389.6" y2="406.6" stroke="#231f20" stroke-width="0.9" stroke-linecap="butt"/>
<text x="389.6" y="417" font-size="9" fill="#3a3a3a" text-anchor="middle" textLength="11.5" lengthAdjust="spacingAndGlyphs">0.4</text>
<line x1="328.3" y1="330" x2="331.4" y2="330" stroke="#231f20" stroke-width="0.9" stroke-linecap="butt"/>
<text x="325.2" y="333.1" font-size="9" fill="#3a3a3a" text-anchor="end" textLength="11" lengthAdjust="spacingAndGlyphs">0.6</text>
<line x1="418.7" y1="403.6" x2="418.7" y2="406.6" stroke="#231f20" stroke-width="0.9" stroke-linecap="butt"/>
<text x="418.7" y="417" font-size="9" fill="#3a3a3a" text-anchor="middle" textLength="11.5" lengthAdjust="spacingAndGlyphs">0.6</text>
<line x1="328.3" y1="306.2" x2="331.4" y2="306.2" stroke="#231f20" stroke-width="0.9" stroke-linecap="butt"/>
<text x="325.2" y="309.3" font-size="9" fill="#3a3a3a" text-anchor="end" textLength="11" lengthAdjust="spacingAndGlyphs">0.8</text>
<line x1="447.8" y1="403.6" x2="447.8" y2="406.6" stroke="#231f20" stroke-width="0.9" stroke-linecap="butt"/>
<text x="447.8" y="417" font-size="9" fill="#3a3a3a" text-anchor="middle" textLength="11.5" lengthAdjust="spacingAndGlyphs">0.8</text>
<line x1="328.3" y1="282.4" x2="331.4" y2="282.4" stroke="#231f20" stroke-width="0.9" stroke-linecap="butt"/>
<text x="325.2" y="285.5" font-size="9" fill="#3a3a3a" text-anchor="end" textLength="11" lengthAdjust="spacingAndGlyphs">1.0</text>
<line x1="476.9" y1="403.6" x2="476.9" y2="406.6" stroke="#231f20" stroke-width="0.9" stroke-linecap="butt"/>
<text x="476.9" y="417" font-size="9" fill="#3a3a3a" text-anchor="middle" textLength="11.5" lengthAdjust="spacingAndGlyphs">1.0</text>
<text transform="translate(307.8 341.6) rotate(-90)" font-size="9" fill="#231f20" text-anchor="middle" textLength="35" lengthAdjust="spacingAndGlyphs">Sensitivity</text>
<text x="404.5" y="430.1" font-size="8.6" fill="#231f20" text-anchor="middle" textLength="45.5" lengthAdjust="spacingAndGlyphs">1 - Specificity</text>
<line x1="332.4" y1="401.4" x2="476.6" y2="282.1" stroke="#222" stroke-width="1.25" stroke-dasharray="3.5 2.4" stroke-linecap="butt"/>
<polyline points="332.5,403 332.5,389.4 336.6,389.4 336.6,385.1 352.2,385.1 352.2,382.6 355.6,382.6 355.6,356.6 367.2,356.6 367.2,349.8 368.5,349.8 368.5,346.8 370.8,346.8 370.8,343.7 372.5,343.7 372.5,335.2 389.2,335.2 389.2,330 390.6,330 390.6,323.7 399.2,323.7 399.2,306.8 414.6,306.8 414.6,302.9 418.5,302.9 418.5,298.8 436.2,298.8 436.2,294.5 450.8,294.5 450.8,290.4 472.3,290.4 472.3,286 474.2,286 474.2,283.5" fill="none" stroke="#2d5a89" stroke-width="1.35" stroke-linejoin="miter"/>
<polyline points="331.9,403 334,403 334,400.5 335.3,400.5 335.3,398 336.6,398 336.6,395.5 338,395.5 338,373.3 339.3,373.3 339.3,356.5 340.7,356.5 340.7,352.5 341.8,352.5 341.8,350 343.1,350 343.1,346.8 344.6,346.8 344.6,343.7 346.2,343.7 346.2,339.8 348.8,339.8 348.8,327.5 354,327.5 354,323.7 357.4,323.7 357.4,319.1 362.6,319.1 362.6,311.4 363.8,311.4 363.8,306.8 368.2,306.8 368.2,294.5 380.2,294.5 380.2,290.6 397.8,290.6 397.8,286.8 399.4,286.8 399.4,281.8 476.5,281.8" fill="none" stroke="#c02444" stroke-width="1.35" stroke-linejoin="miter"/>
<line x1="366.5" y1="382.2" x2="381.2" y2="382.2" stroke="#c02444" stroke-width="1.35" stroke-linecap="butt"/>
<line x1="366.5" y1="393.2" x2="381.2" y2="393.2" stroke="#2d5a89" stroke-width="1.35" stroke-linecap="butt"/>
<text x="384.2" y="385.4" font-size="8.6" fill="#3a3a3a" text-anchor="start" textLength="66.3" lengthAdjust="spacingAndGlyphs">sGPVI, AUC = 0.86</text>
<text x="384.2" y="396.4" font-size="8.6" fill="#3a3a3a" text-anchor="start" textLength="72.8" lengthAdjust="spacingAndGlyphs">D-dimer, AUC = 0.65</text>
<line x1="461" y1="382.7" x2="461" y2="393.8" stroke="#231f20" stroke-width="1" stroke-linecap="butt"/>
<text x="465.2" y="390.3" font-size="7" fill="#3a3a3a" text-anchor="middle">*</text>
<text x="6.6" y="514" font-size="12" fill="#000" text-anchor="start" font-weight="bold">F</text>
<text x="112" y="541.2" font-size="8.6" fill="#3a3a3a" text-anchor="end" textLength="105.5" lengthAdjust="spacingAndGlyphs">sGPVI adjusted for D-Dimer,</text>
<text x="112" y="550.4" font-size="8.6" fill="#3a3a3a" text-anchor="end" textLength="48.5" lengthAdjust="spacingAndGlyphs">per doubling</text>
<text x="112" y="573.1" font-size="8.6" fill="#3a3a3a" text-anchor="end" textLength="105.1" lengthAdjust="spacingAndGlyphs">D-Dimer adjusted for sGPVI,</text>
<text x="112" y="582.4" font-size="8.6" fill="#3a3a3a" text-anchor="end" textLength="48.5" lengthAdjust="spacingAndGlyphs">per doubling</text>
<text x="112" y="611.2" font-size="8.6" fill="#3a3a3a" text-anchor="end" textLength="39.3" lengthAdjust="spacingAndGlyphs">Combined</text>
<line x1="118.2" y1="535.5" x2="118.2" y2="550.4" stroke="#333" stroke-width="1" stroke-linecap="butt"/>
<line x1="118.2" y1="567.7" x2="118.2" y2="582.7" stroke="#333" stroke-width="1" stroke-linecap="butt"/>
<line x1="118.2" y1="601.2" x2="118.2" y2="616.2" stroke="#333" stroke-width="1" stroke-linecap="butt"/>
<text x="166.5" y="538.3" font-size="8.6" fill="#3a5f88" text-anchor="end" textLength="41.9" lengthAdjust="spacingAndGlyphs">Unadjusted</text>
<text x="166.5" y="554.3" font-size="8.6" fill="#b42a4d" text-anchor="end" textLength="32.8" lengthAdjust="spacingAndGlyphs">Adjusted</text>
<text x="166.5" y="570.7" font-size="8.6" fill="#3a5f88" text-anchor="end" textLength="41.9" lengthAdjust="spacingAndGlyphs">Unadjusted</text>
<text x="166.5" y="586.9" font-size="8.6" fill="#b42a4d" text-anchor="end" textLength="32.8" lengthAdjust="spacingAndGlyphs">Adjusted</text>
<text x="166.5" y="603" font-size="8.6" fill="#3a5f88" text-anchor="end" textLength="41.9" lengthAdjust="spacingAndGlyphs">Unadjusted</text>
<text x="166.5" y="619.4" font-size="8.6" fill="#b42a4d" text-anchor="end" textLength="32.8" lengthAdjust="spacingAndGlyphs">Adjusted</text>
<text x="208.8" y="525.9" font-size="7" fill="#231f20" text-anchor="middle" font-weight="bold" textLength="62" lengthAdjust="spacingAndGlyphs">Odds ratio (95% CI)</text>
<line x1="183.3" y1="535.3" x2="183.3" y2="632" stroke="#222" stroke-width="1.2" stroke-dasharray="2.6 2.4" stroke-linecap="butt"/>
<line x1="169.8" y1="632" x2="247.5" y2="632" stroke="#231f20" stroke-width="1.1" stroke-linecap="butt"/>
<line x1="183" y1="632" x2="183" y2="635.2" stroke="#231f20" stroke-width="0.9" stroke-linecap="butt"/>
<text x="183" y="644.1" font-size="7" fill="#3a3a3a" text-anchor="middle">1</text>
<line x1="204.2" y1="632" x2="204.2" y2="635.2" stroke="#231f20" stroke-width="0.9" stroke-linecap="butt"/>
<text x="204.2" y="644.1" font-size="7" fill="#3a3a3a" text-anchor="middle">3</text>
<line x1="227.3" y1="632" x2="227.3" y2="635.2" stroke="#231f20" stroke-width="0.9" stroke-linecap="butt"/>
<text x="227.3" y="644.1" font-size="7" fill="#3a3a3a" text-anchor="middle">10</text>
<line x1="180.8" y1="535.4" x2="193.6" y2="535.4" stroke="#2f5a82" stroke-width="1.2" stroke-linecap="butt"/>
<circle cx="188.1" cy="535.4" r="2.15" fill="#163a5e" stroke="none" stroke-width="0.6"/>
<line x1="180.8" y1="551.3" x2="193.6" y2="551.3" stroke="#c0304c" stroke-width="1.2" stroke-linecap="butt"/>
<circle cx="188.1" cy="551.3" r="2.15" fill="#9c1533" stroke="none" stroke-width="0.6"/>
<line x1="211.2" y1="567.7" x2="228.8" y2="567.7" stroke="#2f5a82" stroke-width="1.2" stroke-linecap="butt"/>
<circle cx="220.2" cy="567.7" r="2.15" fill="#163a5e" stroke="none" stroke-width="0.6"/>
<line x1="211.2" y1="583.7" x2="228.8" y2="583.7" stroke="#c0304c" stroke-width="1.2" stroke-linecap="butt"/>
<circle cx="220.2" cy="583.7" r="2.15" fill="#9c1533" stroke="none" stroke-width="0.6"/>
<line x1="216.1" y1="599.8" x2="233.9" y2="599.8" stroke="#2f5a82" stroke-width="1.2" stroke-linecap="butt"/>
<circle cx="224.4" cy="599.8" r="2.15" fill="#163a5e" stroke="none" stroke-width="0.6"/>
<line x1="216.1" y1="616.1" x2="233.9" y2="616.1" stroke="#c0304c" stroke-width="1.2" stroke-linecap="butt"/>
<circle cx="224.4" cy="616.1" r="2.15" fill="#9c1533" stroke="none" stroke-width="0.6"/>
<text x="278.4" y="459.1" font-size="12" fill="#000" text-anchor="start" font-weight="bold">G</text>
<text x="405.2" y="459.1" font-size="10" fill="#2e2e2e" text-anchor="middle" textLength="130.2" lengthAdjust="spacingAndGlyphs">Association with AAA growth</text>
<text x="404.5" y="470.5" font-size="10" fill="#2e2e2e" text-anchor="middle" textLength="65.4" lengthAdjust="spacingAndGlyphs">rate (mm/year)</text>
<rect x="331.8" y="476.5" width="147.2" height="83.3" fill="none" stroke="#231f20" stroke-width="1.35"/>
<line x1="328.8" y1="496.2" x2="331.8" y2="496.2" stroke="#231f20" stroke-width="0.9" stroke-linecap="butt"/>
<text x="326" y="498.8" font-size="7.5" fill="#3a3a3a" text-anchor="end">2</text>
<line x1="328.8" y1="517.4" x2="331.8" y2="517.4" stroke="#231f20" stroke-width="0.9" stroke-linecap="butt"/>
<text x="326" y="520" font-size="7.5" fill="#3a3a3a" text-anchor="end">1</text>
<line x1="328.8" y1="538.6" x2="331.8" y2="538.6" stroke="#231f20" stroke-width="0.9" stroke-linecap="butt"/>
<text x="326" y="541.2" font-size="7.5" fill="#3a3a3a" text-anchor="end">0</text>
<line x1="328.8" y1="559.8" x2="331.8" y2="559.8" stroke="#231f20" stroke-width="0.9" stroke-linecap="butt"/>
<text x="326" y="562.4" font-size="7.5" fill="#3a3a3a" text-anchor="end">−1</text>
<line x1="331.8" y1="538.6" x2="479" y2="538.6" stroke="#333" stroke-width="1" stroke-dasharray="3.2 2.2" stroke-linecap="butt"/>
<text transform="translate(312.5 520.1) rotate(-90)" font-size="9.5" fill="#231f20" text-anchor="middle" textLength="79" lengthAdjust="spacingAndGlyphs">β-Coefficient (95% CI)</text>
<line x1="351.2" y1="497.4" x2="351.2" y2="530" stroke="#5581ae" stroke-width="1.7" stroke-linecap="butt"/>
<line x1="361.2" y1="497.4" x2="361.2" y2="527.7" stroke="#d4506b" stroke-width="1.7" stroke-linecap="butt"/>
<circle cx="351.2" cy="512.6" r="2.25" fill="#163a5e" stroke="none" stroke-width="0.6"/>
<circle cx="361.2" cy="512.6" r="2.25" fill="#9c1533" stroke="none" stroke-width="0.6"/>
<line x1="356.2" y1="559.8" x2="356.2" y2="563" stroke="#231f20" stroke-width="0.9" stroke-linecap="butt"/>
<line x1="399.9" y1="501.7" x2="399.9" y2="551.4" stroke="#5581ae" stroke-width="1.7" stroke-linecap="butt"/>
<line x1="409.9" y1="503.8" x2="409.9" y2="555.7" stroke="#d4506b" stroke-width="1.7" stroke-linecap="butt"/>
<circle cx="399.9" cy="527.5" r="2.25" fill="#163a5e" stroke="none" stroke-width="0.6"/>
<circle cx="409.9" cy="529.9" r="2.25" fill="#9c1533" stroke="none" stroke-width="0.6"/>
<line x1="404.9" y1="559.8" x2="404.9" y2="563" stroke="#231f20" stroke-width="0.9" stroke-linecap="butt"/>
<line x1="448.9" y1="480.2" x2="448.9" y2="523.5" stroke="#5581ae" stroke-width="1.7" stroke-linecap="butt"/>
<line x1="458.9" y1="484.8" x2="458.9" y2="526.1" stroke="#d4506b" stroke-width="1.7" stroke-linecap="butt"/>
<circle cx="448.9" cy="502.2" r="2.25" fill="#163a5e" stroke="none" stroke-width="0.6"/>
<circle cx="458.9" cy="504.3" r="2.25" fill="#9c1533" stroke="none" stroke-width="0.6"/>
<line x1="453.9" y1="559.8" x2="453.9" y2="563" stroke="#231f20" stroke-width="0.9" stroke-linecap="butt"/>
<text transform="translate(356.7 569.3) rotate(-45)" font-size="9" fill="#231f20" text-anchor="end" textLength="102" lengthAdjust="spacingAndGlyphs">sGPVI adjusted for D-dimer,</text>
<text transform="translate(364.05 576.65) rotate(-45)" font-size="9" fill="#231f20" text-anchor="end" textLength="45" lengthAdjust="spacingAndGlyphs">per doubling</text>
<text transform="translate(405.2 569.3) rotate(-45)" font-size="9" fill="#231f20" text-anchor="end" textLength="102" lengthAdjust="spacingAndGlyphs">D-dimer adjusted for sGPVI,</text>
<text transform="translate(412.55 576.65) rotate(-45)" font-size="9" fill="#231f20" text-anchor="end" textLength="45" lengthAdjust="spacingAndGlyphs">per doubling</text>
<text transform="translate(454.5 569.4) rotate(-45)" font-size="9" fill="#231f20" text-anchor="end" textLength="41" lengthAdjust="spacingAndGlyphs">Combined</text>
<rect x="0.5" y="0.5" width="519" height="658" fill="none" stroke="#5a5a5a" stroke-width="1.2"/>
</svg>
</body></html>
